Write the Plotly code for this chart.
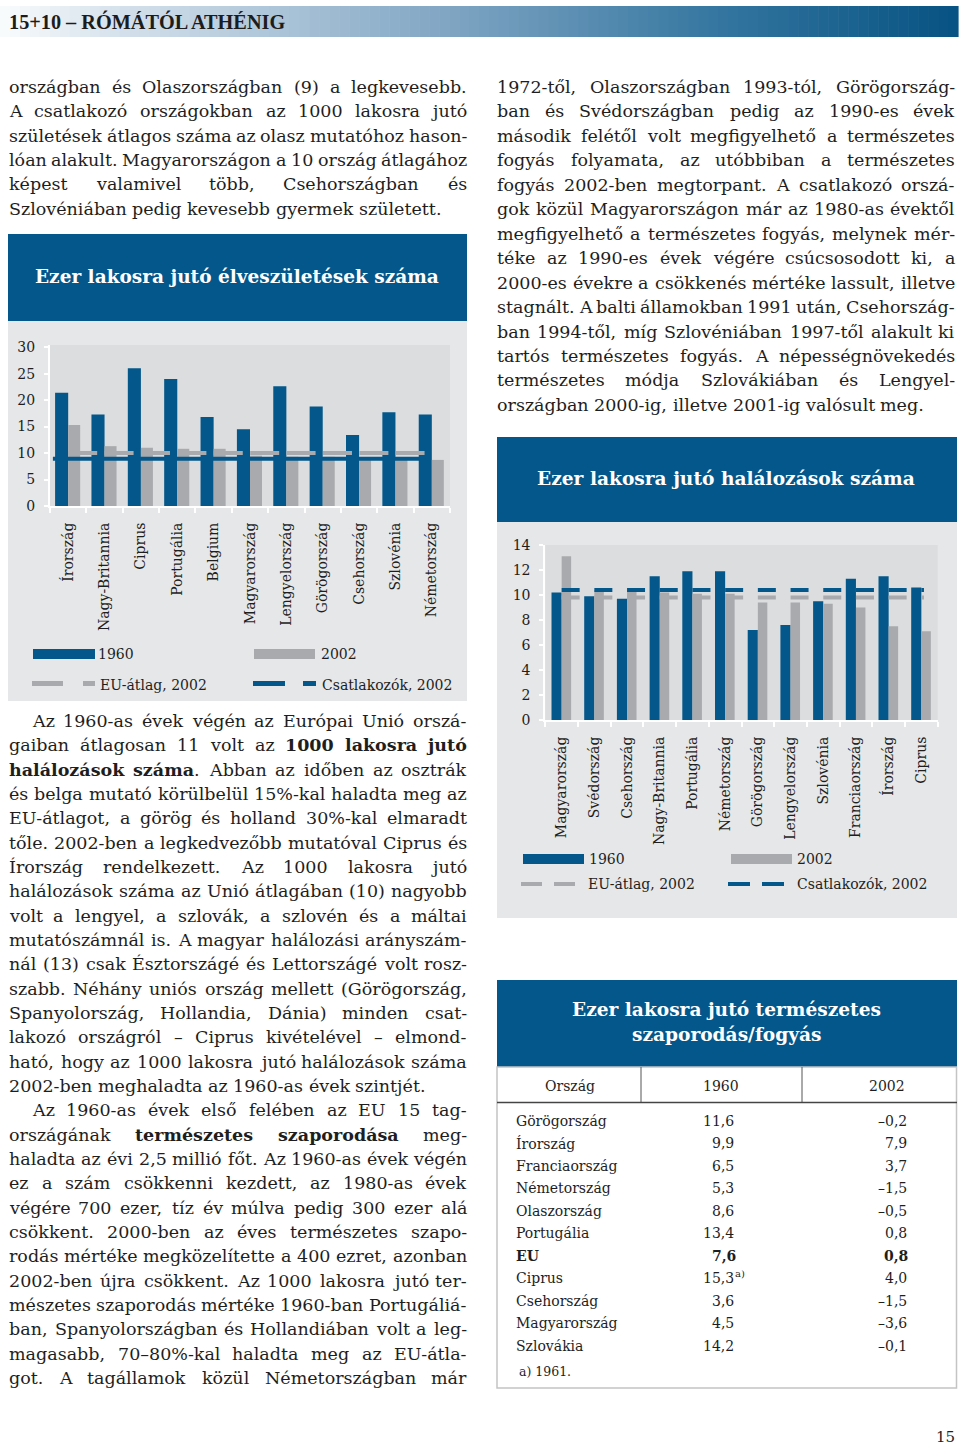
import os
import struct

import plotly.graph_objects as go

PAGE_W, PAGE_H = 960, 1447

BLUE = "#04578a"
GREY = "#a8aaad"
PANEL = "#e6e7e8"
PLOT_BG = "#dcdddf"
TEXT = "#1e1e1e"
SERIF = "DejaVu Serif"

# ---- births chart ----
birth_countries = ["Írország", "Nagy-Britannia", "Ciprus", "Portugália", "Belgium", "Magyarország",
                   "Lengyelország", "Görögország", "Csehország", "Szlovénia", "Németország"]
birth_1960 = [21.4, 17.3, 26.0, 24.0, 16.8, 14.5, 22.6, 18.8, 13.4, 17.7, 17.3]
birth_2002 = [15.3, 11.3, 11.0, 10.8, 10.8, 9.5, 9.3, 9.3, 9.1, 8.8, 8.7]
birth_eu_avg = 10.0
birth_acc_avg = 8.9
birth_ticks = [0, 5, 10, 15, 20, 25, 30]

# ---- deaths chart ----
death_countries = ["Magyarország", "Svédország", "Csehország", "Nagy-Britannia", "Portugália",
                   "Németország", "Görögország", "Lengyelország", "Szlovénia", "Franciaország",
                   "Írország", "Ciprus"]
death_1960 = [10.2, 9.9, 9.7, 11.5, 11.9, 11.9, 7.2, 7.6, 9.5, 11.3, 11.5, 10.6]
death_2002 = [13.1, 10.4, 10.4, 10.2, 10.1, 10.1, 9.4, 9.4, 9.3, 9.0, 7.5, 7.1]
death_eu_avg = 9.8
death_acc_avg = 10.4
death_ticks = [0, 2, 4, 6, 8, 10, 12, 14]

# ---- natural increase table ----
table_countries = ["Görögország", "Írország", "Franciaország", "Németország", "Olaszország",
                   "Portugália", "EU", "Ciprus", "Csehország", "Magyarország", "Szlovákia"]
table_1960 = [11.6, 9.9, 6.5, 5.3, 8.6, 13.4, 7.6, 15.3, 3.6, 4.5, 14.2]
table_2002 = [-0.2, 7.9, 3.7, -1.5, -0.5, 0.8, 0.8, 4.0, -1.5, -3.6, -0.1]
table_notes_1960 = ["", "", "", "", "", "", "", "a)", "", "", ""]
table_bold = ["EU"]

# ---- page text (line breaks as printed) ----
top_left_lines = [
    "országban és Olaszországban (9) a legkevesebb.",
    "A csatlakozó országokban az 1000 lakosra jutó",
    "születések átlagos száma az olasz mutatóhoz hason-",
    "lóan alakult. Magyarországon a 10 ország átlagához",
    "képest valamivel több, Csehországban és",
    "Szlovéniában pedig kevesebb gyermek született.",
]
right_lines = [
    "1972-től, Olaszországban 1993-tól, Görögország-",
    "ban és Svédországban pedig az 1990-es évek",
    "második felétől volt megfigyelhető a természetes",
    "fogyás folyamata, az utóbbiban a természetes",
    "fogyás 2002-ben megtorpant. A csatlakozó orszá-",
    "gok közül Magyarországon már az 1980-as évektől",
    "megfigyelhető a természetes fogyás, melynek mér-",
    "téke az 1990-es évek végére csúcsosodott ki, a",
    "2000-es évekre a csökkenés mértéke lassult, illetve",
    "stagnált. A balti államokban 1991 után, Csehország-",
    "ban 1994-től, míg Szlovéniában 1997-től alakult ki",
    "tartós természetes fogyás. A népességnövekedés",
    "természetes módja Szlovákiában és Lengyel-",
    "országban 2000-ig, illetve 2001-ig valósult meg.",
]
lower_par1 = [
    "Az 1960-as évek végén az Európai Unió orszá-",
    "gaiban átlagosan 11 volt az **1000 lakosra jutó**",
    "**halálozások száma**. Abban az időben az osztrák",
    "és belga mutató körülbelül 15%-kal haladta meg az",
    "EU-átlagot, a görög és holland 30%-kal elmaradt",
    "tőle. 2002-ben a legkedvezőbb mutatóval Ciprus és",
    "Írország rendelkezett. Az 1000 lakosra jutó",
    "halálozások száma az Unió átlagában (10) nagyobb",
    "volt a lengyel, a szlovák, a szlovén és a máltai",
    "mutatószámnál is. A magyar halálozási arányszám-",
    "nál (13) csak Észtországé és Lettországé volt rosz-",
    "szabb. Néhány uniós ország mellett (Görögország,",
    "Spanyolország, Hollandia, Dánia) minden csat-",
    "lakozó országról – Ciprus kivételével – elmond-",
    "ható, hogy az 1000 lakosra jutó halálozások száma",
    "2002-ben meghaladta az 1960-as évek szintjét.",
]
lower_par2 = [
    "Az 1960-as évek első felében az EU 15 tag-",
    "országának **természetes szaporodása** meg-",
    "haladta az évi 2,5 millió főt. Az 1960-as évek végén",
    "ez a szám csökkenni kezdett, az 1980-as évek",
    "végére 700 ezer, tíz év múlva pedig 300 ezer alá",
    "csökkent. 2000-ben az éves természetes szapo-",
    "rodás mértéke megközelítette a 400 ezret, azonban",
    "2002-ben újra csökkent. Az 1000 lakosra jutó ter-",
    "mészetes szaporodás mértéke 1960-ban Portugáliá-",
    "ban, Spanyolországban és Hollandiában volt a leg-",
    "magasabb, 70–80%-kal haladta meg az EU-átla-",
    "got. A tagállamok közül Németországban már",
]


def fx(x):
    return x / PAGE_W


def fy(y):
    return 1 - y / PAGE_H


# ---- font metrics, read straight from the installed ttf files ----
def _find_font(filename):
    for root in ("/usr/share/fonts", "/usr/local/share/fonts",
                 os.path.expanduser("~/.local/share/fonts"), os.path.expanduser("~/.fonts")):
        if not os.path.isdir(root):
            continue
        for dirpath, _, files in os.walk(root):
            if filename in files:
                return os.path.join(dirpath, filename)
    return None


def _load_advances(filename):
    path = _find_font(filename)
    if path is None:
        return None
    try:
        data = open(path, "rb").read()
        ntab = struct.unpack(">H", data[4:6])[0]
        tabs = {}
        for i in range(ntab):
            tag, _, off, _ = struct.unpack(">4sIII", data[12 + 16 * i:28 + 16 * i])
            tabs[tag.decode("latin-1")] = off
        upem = struct.unpack(">H", data[tabs["head"] + 18:tabs["head"] + 20])[0]
        nhm = struct.unpack(">H", data[tabs["hhea"] + 34:tabs["hhea"] + 36])[0]
        hm = tabs["hmtx"]
        adv = struct.unpack(">%dH" % (2 * nhm), data[hm:hm + 4 * nhm])[0::2]
        cm = tabs["cmap"]
        nsub = struct.unpack(">H", data[cm + 2:cm + 4])[0]
        sub = None
        for i in range(nsub):
            pid, eid, so = struct.unpack(">HHI", data[cm + 4 + 8 * i:cm + 12 + 8 * i])
            if pid == 3 and eid == 1:
                sub = cm + so
        if sub is None or struct.unpack(">H", data[sub:sub + 2])[0] != 4:
            return None
        segx2 = struct.unpack(">H", data[sub + 6:sub + 8])[0]
        n = segx2 // 2
        ends = struct.unpack(">%dH" % n, data[sub + 14:sub + 14 + segx2])
        starts = struct.unpack(">%dH" % n, data[sub + 16 + segx2:sub + 16 + 2 * segx2])
        deltas = struct.unpack(">%dh" % n, data[sub + 16 + 2 * segx2:sub + 16 + 3 * segx2])
        ro = sub + 16 + 3 * segx2
        offs = struct.unpack(">%dH" % n, data[ro:ro + segx2])
    except Exception:
        return None

    def glyph(c):
        for i in range(n):
            if c <= ends[i]:
                if c < starts[i]:
                    return 0
                if offs[i] == 0:
                    return (c + deltas[i]) & 0xFFFF
                a = ro + 2 * i + offs[i] + 2 * (c - starts[i])
                g = struct.unpack(">H", data[a:a + 2])[0]
                return (g + deltas[i]) & 0xFFFF if g else 0
        return 0

    cache = {}

    def advance(ch):
        if ch not in cache:
            cache[ch] = adv[min(glyph(ord(ch)), nhm - 1)] / upem
        return cache[ch]

    return advance


FONT_R = _load_advances("DejaVuSerif.ttf")
FONT_B = _load_advances("DejaVuSerif-Bold.ttf") or FONT_R
FONT_HEAD = _load_advances("LiberationSerif-Bold.ttf")


def text_width(s, bold=False, size=1.0):
    f = FONT_B if bold else FONT_R
    if f is None:
        return len(s) * 0.55 * size
    return sum(f(c) for c in s) * size


def split_words(line):
    words = [[]]
    for k, part in enumerate(line.split("**")):
        bold = k % 2 == 1
        for j, chunk in enumerate(part.split(" ")):
            if j > 0:
                words.append([])
            if chunk:
                words[-1].append((chunk, bold))
    return [w for w in words if w]


def word_width(word, size):
    return sum(text_width(t, b, size) for t, b in word)


def word_markup(word):
    return "".join(f"<b>{t}</b>" if b else t for t, b in word)


def fit_title(text, target, default, advance=None):
    adv = advance if advance is not None else FONT_B
    if adv is None:
        return default
    return target / sum(adv(c) for c in text)


BLOCKS = [
    dict(paragraphs=[top_left_lines], x0=9, x1=467, y0=88, step=24.33, indent=0,
         indent_first=False, open_end=False),
    dict(paragraphs=[right_lines], x0=497, x1=955, y0=88, step=24.45, indent=0,
         indent_first=False, open_end=False),
    dict(paragraphs=[lower_par1, lower_par2], x0=9, x1=467, y0=722, step=24.33, indent=23,
         indent_first=True, open_end=True),
]


def block_lines(block):
    out = []
    paras = block["paragraphs"]
    for pi, para in enumerate(paras):
        for li, line in enumerate(para):
            first = li == 0 and (pi > 0 or block["indent_first"])
            last = li == len(para) - 1
            justify = (not last) or (block["open_end"] and pi == len(paras) - 1)
            left = block["x0"] + (block["indent"] if first else 0)
            out.append((line, left, block["x1"], justify))
    return out


body_size = 17.5
if FONT_R is not None:
    space1 = text_width(" ")
    for block in BLOCKS:
        for line, left, right, justify in block_lines(block):
            words = split_words(line)
            need = sum(word_width(w, 1) for w in words) + 0.45 * space1 * (len(words) - 1)
            body_size = min(body_size, (right - left) / need)

annotations = []
shapes = []


def add_text(x, y, text, size, xanchor="left", color=TEXT, family=SERIF, yanchor="middle"):
    annotations.append(dict(x=fx(x), y=fy(y), xref="paper", yref="paper", text=text, showarrow=False,
                            xanchor=xanchor, yanchor=yanchor, borderpad=0, borderwidth=0,
                            font=dict(family=family, size=size, color=color)))


def add_rect(x0, y0, x1, y1, fill, line_color=None, line_width=0, layer="below"):
    shapes.append(dict(type="rect", xref="paper", yref="paper", x0=fx(x0), x1=fx(x1), y0=fy(y1), y1=fy(y0),
                       fillcolor=fill, layer=layer,
                       line=dict(color=line_color or fill, width=line_width)))


def add_line(x0, y0, x1, y1, color, width):
    shapes.append(dict(type="line", xref="paper", yref="paper", x0=fx(x0), x1=fx(x1), y0=fy(y0), y1=fy(y1),
                       line=dict(color=color, width=width), layer="above"))


for block in BLOCKS:
    for row, (line, left, right, justify) in enumerate(block_lines(block)):
        y = block["y0"] + row * block["step"] - 1
        words = split_words(line)
        if FONT_R is None:
            add_text(left, y, " ".join(word_markup(w) for w in words), body_size)
            continue
        widths = [word_width(w, body_size) for w in words]
        if justify and len(words) > 1:
            gap = (right - left - sum(widths)) / (len(words) - 1)
        else:
            gap = text_width(" ", size=body_size)
        x = left
        for k, (w, ww) in enumerate(zip(words, widths)):
            if justify and k == len(words) - 1 and len(words) > 1:
                add_text(right, y, word_markup(w), body_size, xanchor="right")
            else:
                add_text(x, y, word_markup(w), body_size)
            x += ww + gap

# ---- running header ----
n_strips = 96
stops = [(0.0, (250, 252, 253)), (0.12, (214, 226, 236)), (0.45, (132, 168, 197)),
         (0.75, (52, 118, 160)), (1.0, (6, 82, 130))]


def grad(t):
    for (t0, c0), (t1, c1) in zip(stops[:-1], stops[1:]):
        if t0 <= t <= t1:
            u = (t - t0) / (t1 - t0)
            return "rgb(%d,%d,%d)" % tuple(round(a + (b - a) * u) for a, b in zip(c0, c1))
    return "rgb(6,82,130)"


for i in range(n_strips):
    xa = 958 * i / n_strips
    xb = 958 * (i + 1) / n_strips + 0.6
    add_rect(xa, 6, xb, 37, grad((i + 0.5) / n_strips))
head_txt = "15+10 – RÓMÁTÓL ATHÉNIG"
add_text(9, 22, f"<b>{head_txt}</b>", fit_title(head_txt, 280, 18.5, FONT_HEAD), family="Liberation Serif",
         color="#1c1c1c")
add_text(945, 1437, "15", 15, xanchor="center")

# ---- births chart frame ----
add_rect(8, 234, 467, 321, BLUE)
add_rect(8, 321, 467, 701, PANEL)
t1 = "Ezer lakosra jutó élveszületések száma"
add_text(237, 277, f"<b>{t1}</b>", fit_title(t1, 404, 18), xanchor="center", color="white")

# ---- deaths chart frame ----
add_rect(497, 437, 957, 522, BLUE)
add_rect(497, 522, 957, 918, PANEL)
t2 = "Ezer lakosra jutó halálozások száma"
add_text(726, 478, f"<b>{t2}</b>", fit_title(t2, 378, 18), xanchor="center", color="white")

for xaxis, yaxis in (("x", "y"), ("x2", "y2")):
    shapes.append(dict(type="rect", xref=f"{xaxis} domain", yref=f"{yaxis} domain", x0=0, x1=1, y0=0, y1=1,
                       fillcolor=PLOT_BG, line=dict(width=0), layer="below"))

# legends
LEG = 14
add_rect(33, 649, 95, 659, BLUE, layer="above")
add_text(98, 654, "1960", LEG)
add_rect(254, 649, 315, 659, GREY, layer="above")
add_text(321, 654, "2002", LEG)
add_rect(32, 681, 63, 686, GREY, layer="above")
add_rect(83, 681, 95, 686, GREY, layer="above")
add_text(100, 685, "EU-átlag, 2002", LEG)
add_rect(253, 681, 285, 686, BLUE, layer="above")
add_rect(303, 681, 316, 686, BLUE, layer="above")
add_text(322, 685, "Csatlakozók, 2002", LEG)

add_rect(523, 854, 584, 864, BLUE, layer="above")
add_text(589, 859, "1960", LEG)
add_rect(731, 854, 792, 864, GREY, layer="above")
add_text(797, 859, "2002", LEG)
add_rect(521, 882, 542, 886, GREY, layer="above")
add_rect(554, 882, 575, 886, GREY, layer="above")
add_text(588, 884, "EU-átlag, 2002", LEG)
add_rect(728, 882, 750, 886, BLUE, layer="above")
add_rect(762, 882, 784, 886, BLUE, layer="above")
add_text(797, 884, "Csatlakozók, 2002", LEG)

# ---- table ----
add_rect(497, 980, 957, 1067, BLUE)
t3a, t3b = "Ezer lakosra jutó természetes", "szaporodás/fogyás"
tsize = fit_title(t3a, 309, 18)
add_text(726.5, 1009, f"<b>{t3a}</b>", tsize, xanchor="center", color="white")
add_text(726.5, 1034, f"<b>{t3b}</b>", tsize, xanchor="center", color="white")
add_rect(497, 1067, 956.5, 1388, "white", line_color="#c4c4c4", line_width=1.5)
add_line(641, 1067, 641, 1102, "#555555", 1)
add_line(802, 1067, 802, 1102, "#555555", 1)
add_line(497, 1102.5, 957, 1102.5, "#444444", 1.5)
TAB = 14
add_text(570, 1086, "Ország", TAB, xanchor="center")
add_text(721, 1086, "1960", TAB, xanchor="center")
add_text(887, 1086, "2002", TAB, xanchor="center")


def fmt(v):
    return f"{v:.1f}".replace(".", ",").replace("-", "–")


for i, name in enumerate(table_countries):
    y = 1120.5 + i * 22.55
    b = name in table_bold
    wrap = (lambda s: f"<b>{s}</b>") if b else (lambda s: s)
    add_text(516, y, wrap(name), TAB)
    add_text(734 + (1.5 if b else 0), y, wrap(fmt(table_1960[i])), TAB, xanchor="right")
    if table_notes_1960[i]:
        add_text(734.5, y - 5, table_notes_1960[i], 10)
    add_text(907 + (1 if b else 0), y, wrap(fmt(table_2002[i])), TAB, xanchor="right")
add_text(519, 1371, "a) 1961.", 12.5)

# ---- traces ----
fig = go.Figure()
bx = list(range(len(birth_countries)))
fig.add_trace(go.Bar(x=bx, y=birth_1960, offset=-0.36, width=0.36, marker=dict(color=BLUE, line=dict(width=0)),
                     xaxis="x", yaxis="y", name="1960"))
fig.add_trace(go.Bar(x=bx, y=birth_2002, offset=0.0, width=0.33, marker=dict(color=GREY, line=dict(width=0)),
                     xaxis="x", yaxis="y", name="2002"))
fig.add_trace(go.Scatter(x=[-0.42, len(bx) - 1.05], y=[birth_acc_avg] * 2, mode="lines",
                         line=dict(color=BLUE, width=4), xaxis="x", yaxis="y", name="Csatlakozók, 2002"))
fig.add_trace(go.Scatter(x=[0.0, len(bx) - 1.2], y=[birth_eu_avg] * 2, mode="lines",
                         line=dict(color=GREY, width=4, dash="29px,7.4px"), xaxis="x", yaxis="y",
                         name="EU-átlag, 2002"))

dx = list(range(len(death_countries)))
fig.add_trace(go.Bar(x=dx, y=death_1960, offset=-0.31, width=0.31, marker=dict(color=BLUE, line=dict(width=0)),
                     xaxis="x2", yaxis="y2", name="1960"))
fig.add_trace(go.Bar(x=dx, y=death_2002, offset=0.0, width=0.29, marker=dict(color=GREY, line=dict(width=0)),
                     xaxis="x2", yaxis="y2", name="2002"))
fig.add_trace(go.Scatter(x=[0.0, len(dx) - 0.92], y=[death_eu_avg] * 2, mode="lines",
                         line=dict(color=GREY, width=4, dash="18px,14.7px"), xaxis="x2", yaxis="y2",
                         name="EU-átlag, 2002"))
fig.add_trace(go.Scatter(x=[0.0, len(dx) - 0.92], y=[death_acc_avg] * 2, mode="lines",
                         line=dict(color=BLUE, width=4, dash="18px,14.7px"), xaxis="x2", yaxis="y2",
                         name="Csatlakozók, 2002"))


def cat_axis(domain, n, labels, anchor):
    return dict(domain=domain, range=[-0.5, n - 0.5], tickmode="array", tickvals=list(range(n)),
                ticktext=labels, tickangle=-90, ticks="", showline=True, linecolor="white", linewidth=2,
                showgrid=False, zeroline=False, anchor=anchor, ticklabelstandoff=9, automargin=False,
                tickfont=dict(family=SERIF, size=14, color=TEXT),
                minor=dict(tickmode="array", tickvals=[i - 0.5 for i in range(n + 1)], ticks="outside",
                           ticklen=5, tickwidth=1.5, tickcolor="white", showgrid=False))


def val_axis(domain, rng, ticks, anchor):
    return dict(domain=domain, range=rng, tickmode="array", tickvals=ticks, ticks="outside", ticklen=4,
                tickwidth=1.5, tickcolor="white", showline=True, linecolor="white", linewidth=2,
                showgrid=False, zeroline=False, anchor=anchor, ticklabelstandoff=6, automargin=False,
                tickfont=dict(family=SERIF, size=14, color=TEXT))


fig.update_layout(
    width=PAGE_W,
    height=PAGE_H,
    margin=dict(l=0, r=0, t=0, b=0, pad=0, autoexpand=False),
    paper_bgcolor="white",
    plot_bgcolor="rgba(0,0,0,0)",
    showlegend=False,
    barmode="overlay",
    font=dict(family=SERIF, color=TEXT),
    xaxis=cat_axis([fx(50), fx(450)], len(bx), birth_countries, "y"),
    yaxis=val_axis([fy(506), fy(345)], [0, 30.4], birth_ticks, "x"),
    xaxis2=cat_axis([fx(545.3), fx(937.7)], len(dx), death_countries, "y2"),
    yaxis2=val_axis([fy(720), fy(545)], [0, 14], death_ticks, "x2"),
    shapes=shapes,
    annotations=annotations,
)

# the page's default body margin would push the figure off the window
fig.write_html("out.html", config={"displayModeBar": False},
               post_script="document.body.style.margin='0px';document.body.style.overflow='hidden';")
